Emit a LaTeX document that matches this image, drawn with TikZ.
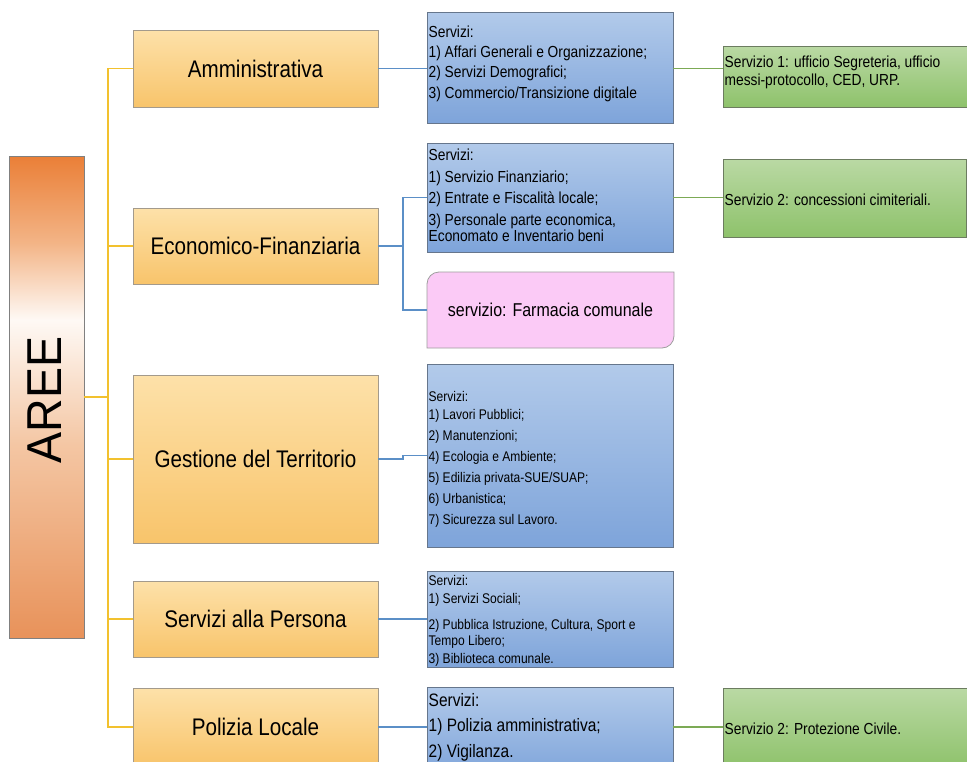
\documentclass[tikz,border=0pt]{standalone}
\usepackage{fontspec}
\setmainfont[FakeStretch=0.86]{Liberation Sans}
\newfontfamily\areefont[FakeStretch=0.95]{Liberation Sans}
\definecolor{orTop}{HTML}{FDE1A9}
\definecolor{orBot}{HTML}{F8C46B}
\definecolor{orBorder}{HTML}{A39A8C}
\definecolor{blTop}{HTML}{B2CAEA}
\definecolor{blBot}{HTML}{7EA4DA}
\definecolor{blBorder}{HTML}{66768C}
\definecolor{grTop}{HTML}{BAD9A4}
\definecolor{grBot}{HTML}{8EC26B}
\definecolor{grBorder}{HTML}{6C7C60}
\definecolor{pkFill}{HTML}{FBCAF6}
\definecolor{pkBorder}{HTML}{9E9E9E}
\definecolor{yelline}{HTML}{F2C12E}
\definecolor{blline}{HTML}{5B8FC7}
\definecolor{grline}{HTML}{7CAA55}
\definecolor{aTop}{HTML}{EA7F37}
\definecolor{aUp}{HTML}{F3B486}
\definecolor{aMid}{HTML}{FEF9F5}
\definecolor{aLow}{HTML}{F4C6A3}
\definecolor{aBot}{HTML}{E8925A}
\pgfdeclareverticalshading{areeshade}{100bp}{color(0bp)=(aBot); color(25bp)=(aBot); color(45bp)=(aLow); color(58bp)=(aMid); color(66bp)=(aUp); color(75bp)=(aTop); color(100bp)=(aTop)}
\begin{document}
\begin{tikzpicture}[x=1pt,y=1pt,
  area/.style={draw=orBorder, line width=0.8pt, top color=orTop, bottom color=orBot,
    minimum width=245pt, inner sep=0pt, font=\fontsize{24}{28}\selectfont, text=black},
  bluebox/.style={draw=blBorder, line width=0.8pt, top color=blTop, bottom color=blBot,
    minimum width=246pt, inner sep=0pt},
  greenbox/.style={draw=grBorder, line width=0.8pt, top color=grTop, bottom color=grBot,
    inner sep=0pt},
  lst/.style={anchor=north west, inner sep=0pt, align=left, text=black},
  one/.style={anchor=base west, inner sep=0pt, text=black},
  yel/.style={draw=yelline, line width=1.5pt},
  blc/.style={draw=blline, line width=1.2pt},
  grc/.style={draw=grline, line width=1.2pt}]
\useasboundingbox (0,0) rectangle (967,-761);
\fill[white] (0,0) rectangle (967,-761);
\clip (0,0) rectangle (967,-761);

% AREE
\node[draw=gray, line width=0.8pt, shading=areeshade, minimum width=75pt, minimum height=482pt, inner sep=0pt] (aree) at (46.5,-397) {};
\node[rotate=90, inner sep=0pt, font=\areefont\fontsize{49}{52}\selectfont, text=black] (areet) at (45,-400) {AREE};

% areas
\node[area, minimum height=77pt] (amm) at (255.5,-68.5) {Amministrativa};
\node[area, minimum height=76pt] (eco) at (255.5,-246) {Economico-Finanziaria};
\node[area, minimum height=168pt] (ges) at (255.5,-459) {Gestione del Territorio};
\node[area, minimum height=76pt] (ser) at (255.5,-619) {Servizi alla Persona};
\node[area, minimum height=78pt] (pol) at (255.5,-727) {Polizia Locale};

% service boxes
\node[bluebox, minimum height=111pt] (b1) at (550,-67.5) {};
\node[lst, font=\fontsize{16}{20.3}\selectfont] (b1t) at (428.5,-25.5)
  {Servizi:\\ 1) Affari Generali e Organizzazione;\\ 2) Servizi Demografici;\\ 3) Commercio/Transizione digitale};

\node[bluebox, minimum height=109pt] (b2) at (550,-197.5) {};
\node[lst, font=\fontsize{16}{15.5}\selectfont] (b2t) at (428.5,-148.5)
  {Servizi:\\[7pt] 1) Servizio Finanziario;\\[5pt] 2) Entrate e Fiscalità locale;\\[7pt] 3) Personale parte economica,\\ Economato e Inventario beni};

\filldraw[fill=pkFill, draw=pkBorder, line width=0.8pt] (427,-348) -- (427,-284) arc[start angle=180, end angle=90, radius=12] -- (674,-272) -- (674,-336) arc[start angle=0, end angle=-90, radius=12] -- cycle;
\node[minimum width=247pt, minimum height=76pt, inner sep=0pt, font=\fontsize{18.6}{22}\selectfont, text=black] (pink) at (550.5,-310) {servizio: Farmacia comunale};

\node[bluebox, minimum height=183pt] (b3) at (550,-455.5) {};
\node[lst, font=\fontsize{14}{21}\selectfont] (b3t) at (428.5,-391)
  {Servizi:\\[-3pt] 1) Lavori Pubblici;\\ 2) Manutenzioni;\\ 4) Ecologia e Ambiente;\\ 5) Edilizia privata-SUE/SUAP;\\ 6) Urbanistica;\\ 7) Sicurezza sul Lavoro.};

\node[bluebox, minimum height=96pt] (b4) at (550,-619) {};
\node[lst, font=\fontsize{14}{16}\selectfont] (b4t) at (428.5,-575)
  {Servizi:\\[2pt] 1) Servizi Sociali;\\[10pt] 2) Pubblica Istruzione, Cultura, Sport e\\ Tempo Libero;\\[2pt] 3) Biblioteca comunale.};

\node[bluebox, minimum height=90pt] (b5) at (550,-732) {};
\node[lst, font=\fontsize{18}{25.5}\selectfont] (b5t) at (428.5,-693)
  {Servizi:\\ 1) Polizia amministrativa;\\ 2) Vigilanza.};

% green boxes
\node[greenbox, minimum width=252pt, minimum height=61pt] (g1) at (849,-76.5) {};
\node[lst, font=\fontsize{16}{18}\selectfont] (g1t) at (724.5,-56)
  {Servizio 1: ufficio Segreteria, ufficio\\ messi-protocollo, CED, URP.};
\node[greenbox, minimum width=243pt, minimum height=78pt] (g2) at (844.5,-198) {};
\node[one, font=\fontsize{16}{18}\selectfont] (g2t) at (724.5,-205.5) {Servizio 2: concessioni cimiteriali.};
\node[greenbox, minimum width=252pt, minimum height=80pt] (g3) at (849,-728) {};
\node[one, font=\fontsize{16}{18}\selectfont] (g3t) at (724.5,-734) {Servizio 2: Protezione Civile.};

% trunk connectors
\coordinate (tx) at (108,-395);
\draw[yel] (aree.east) -- (aree.east -| tx);
\draw[yel] (amm.west) -- (amm.west -| tx) -- (pol.west -| tx) -- (pol.west);
\draw[yel] (eco.west) -- (eco.west -| tx);
\draw[yel] (ges.west) -- (ges.west -| tx);
\draw[yel] (ser.west) -- (ser.west -| tx);

% blue connectors
\coordinate (bx) at (403,-246);
\draw[blc] (amm.east) -- (amm.east -| b1.west);
\draw[blc] (eco.east) -- (eco.east -| bx);
\draw[blc] (b2.west) -| (bx) |- (pink.west);
\draw[blc] (ges.east) -- (ges.east -| bx) |- (b3.west);
\draw[blc] (ser.east) -- (ser.east -| b4.west);
\draw[blc] (pol.east) -- (pol.east -| b5.west);

% green connectors
\draw[grc] (amm.east -| b1.east) -- (amm.east -| g1.west);
\draw[grc] (b2.east) -- (b2.east -| g2.west);
\draw[grc] (pol.east -| b5.east) -- (pol.east -| g3.west);
\end{tikzpicture}
\end{document}
